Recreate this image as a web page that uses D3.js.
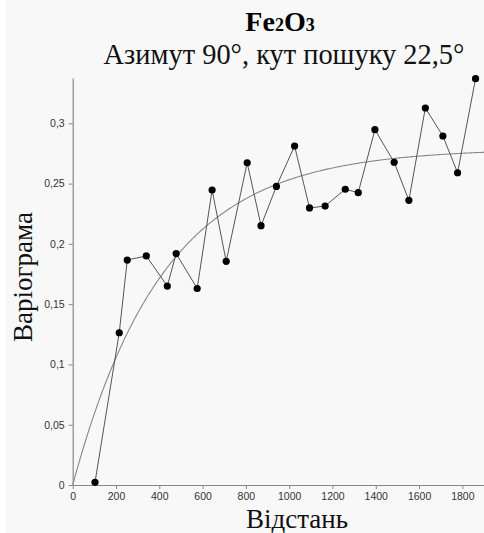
<!DOCTYPE html>
<html><head><meta charset="utf-8">
<script src="https://cdn.jsdelivr.net/npm/d3@7"></script>
<style>body{margin:0;background:#fff}svg{display:block}</style>
</head><body>
<script>
const lags = [103,215,252,340,437,478,575,644,709,806,870,941,1025,1094,1166,1259,1319,1396,1485,1553,1629,1710,1778,1861];
const gammas = [0.0022,0.1263,0.1866,0.190,0.165,0.192,0.163,0.2447,0.1855,0.2673,0.2151,0.2477,0.2812,0.2298,0.2314,0.2453,0.2425,0.2947,0.2677,0.2361,0.3127,0.2895,0.2590,0.3370];
const xTicks = [0,200,400,600,800,1000,1200,1400,1600,1800];
const yTicks = [0,0.05,0.1,0.15,0.2,0.25,0.3];
const modelSill = 0.279;
const modelRange = 420;
const titleMain = "Fe", titleSub = "Азимут 90°, кут пошуку 22,5°";
const xLabel = "Відстань", yLabel = "Варіограма";

const SERIF = '"Liberation Serif"';
const SANS = '"Liberation Sans"';
const W = 484, H = 533;
const svg = d3.select("body").append("svg").attr("width", W).attr("height", H);
svg.append("rect").attr("x",6).attr("y",0).attr("width",W-6).attr("height",H).attr("fill","#f8f8f8");

const x = d3.scaleLinear().domain([0,1900]).range([72.7,484]);
const y = d3.scaleLinear().domain([0,0.3376]).range([485,78]);

const gx = svg.append("g").attr("transform","translate(0,485)")
  .call(d3.axisBottom(x).tickValues(xTicks).tickSize(4).tickSizeOuter(0).tickFormat(d3.format("d")));
const gy = svg.append("g").attr("transform","translate(72.7,0)")
  .call(d3.axisLeft(y).tickValues(yTicks).tickSize(4).tickSizeOuter(0).tickFormat(d => String(d).replace(".", ",")));
[gx,gy].forEach(g => {
  g.select(".domain").attr("stroke","#888").attr("stroke-width",1.2);
  g.selectAll(".tick line").attr("stroke","#888");
  g.selectAll(".tick text").attr("fill","#333").style("font-family",SANS).style("font-size","10.5px");
});
gx.selectAll(".tick text").attr("dy","0.8em");
gy.selectAll(".tick text").attr("dx","-0.1em");

// model curve
const hs = d3.range(0, 1900.1, 5);
const line = d3.line().x(d => x(d[0])).y(d => y(d[1]));
svg.append("path").datum(hs.map(h => [h, modelSill*(1-Math.exp(-h/modelRange))]))
  .attr("d", line).attr("fill","none").attr("stroke","#888").attr("stroke-width",1.1);

// experimental
const pts = lags.map((l,i) => [l, gammas[i]]);
svg.append("path").datum(pts).attr("d", line).attr("fill","none").attr("stroke","#555").attr("stroke-width",1);
svg.selectAll("circle.p").data(pts).enter().append("circle")
  .attr("cx", d => x(d[0])).attr("cy", d => y(d[1])).attr("r",3.6).attr("fill","#000");

// titles
const t1 = svg.append("text").attr("x",280).attr("y",31).attr("text-anchor","middle")
  .style("font-family",SERIF).style("font-weight","bold").style("font-size","28px").attr("fill","#000");
t1.append("tspan").text(titleMain);
t1.append("tspan").style("font-size","18px").text("2");
t1.append("tspan").text("O");
t1.append("tspan").style("font-size","18px").text("3");
svg.append("text").attr("x",284).attr("y",64).attr("text-anchor","middle")
  .style("font-family",SERIF).style("font-size","28.4px").attr("fill","#111").text(titleSub);
svg.append("text").attr("x",297).attr("y",528).attr("text-anchor","middle")
  .style("font-family",SERIF).style("font-size","27px").attr("fill","#111").text(xLabel);
svg.append("text").attr("transform","translate(32,277) rotate(-90)").attr("text-anchor","middle")
  .style("font-family",SERIF).style("font-size","27px").attr("fill","#111").text(yLabel);
</script>
</body></html>
